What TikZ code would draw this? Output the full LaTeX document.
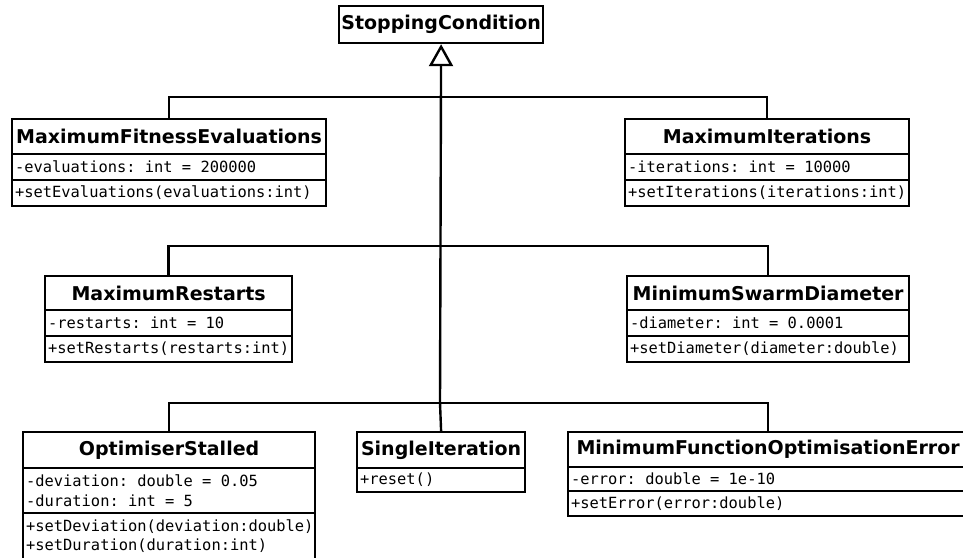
\documentclass[tikz,border=0pt]{standalone}
\usepackage{fontspec}
\usetikzlibrary{arrows.meta}
\newfontfamily\umlsans{DejaVu Sans}
\newfontfamily\umlmono{DejaVu Sans Mono}
% fixed one-cell spaces for the member lines
\newcommand\monospaces{\spaceskip=0.602em\relax\xspaceskip=0.602em\relax}

\begin{document}
\begin{tikzpicture}[x=1pt,y=-1pt,
  box/.style={draw=black, line width=2.2pt, fill=white, anchor=north west, inner sep=0pt},
  classname/.style={box, font=\umlsans\bfseries\fontsize{19}{22}\selectfont},
  members/.style={box, font=\umlmono\fontsize{15.4}{19.5}\selectfont, align=left,
    inner xsep=3pt, execute at begin node=\monospaces},
  link/.style={line width=2.4pt},
  inherit/.style={line width=2.4pt, -{Triangle[open, length=22pt, width=24pt, line width=2.4pt]}}
]
\clip (0,0) rectangle (963,557);

% abstract base class
\node[classname, minimum width=204, minimum height=37] (sc) at (338,5) {StoppingCondition};

% first row
\node[classname, minimum width=314, minimum height=35] (mfe) at (11,118) {MaximumFitnessEvaluations};
\node[members, text width=308, minimum height=26] (mfeA) at (11,153) {-evaluations: int = 200000};
\node[members, text width=308, minimum height=26] (mfeM) at (11,179) {+setEvaluations(evaluations:int)};

\node[classname, minimum width=284, minimum height=35] (mi) at (624,118) {MaximumIterations};
\node[members, text width=278, minimum height=26] (miA) at (624,153) {-iterations: int = 10000};
\node[members, text width=278, minimum height=26] (miM) at (624,179) {+setIterations(iterations:int)};

% second row
\node[classname, minimum width=247, minimum height=34] (mr) at (44,275) {MaximumRestarts};
\node[members, text width=241, minimum height=26] (mrA) at (44,309) {-restarts: int = 10};
\node[members, text width=241, minimum height=26] (mrM) at (44,335) {+setRestarts(restarts:int)};

\node[classname, minimum width=282, minimum height=34] (msd) at (626,275) {MinimumSwarmDiameter};
\node[members, text width=276, minimum height=26] (msdA) at (626,309) {-diameter: int = 0.0001};
\node[members, text width=276, minimum height=26] (msdM) at (626,335) {+setDiameter(diameter:double)};

% third row
\node[classname, minimum width=292, minimum height=36] (os) at (22,431) {OptimiserStalled};
\node[members, text width=286, minimum height=45] (osA) at (22,467) {-deviation: double = 0.05\\-duration: int = 5};
\node[members, text width=286, minimum height=46] (osM) at (22,512) {+setDeviation(deviation:double)\\+setDuration(duration:int)};

\node[classname, minimum width=168, minimum height=36] (si) at (356,431) {SingleIteration};
\node[members, text width=162, minimum height=24] (siM) at (356,467) {+reset()};

\node[classname, minimum width=400, minimum height=35] (mfoe) at (567,431) {MinimumFunctionOptimisationError};
\node[members, text width=394, minimum height=24] (mfoeA) at (567,466) {-error: double = 1e-10};
\node[members, text width=394, minimum height=25] (mfoeM) at (567,490) {+setError(error:double)};

% generalisation tree
\coordinate (bar1) at (440,97);
\coordinate (bar2) at (440,246);
\coordinate (bar3) at (440,403);

\draw[link] (mfe.north) -- (mfe.north |- bar1) -- (mi.north |- bar1) -- (mi.north);
\draw[link] (mr.north) -- (mr.north |- bar2) -- (msd.north |- bar2) -- (msd.north);
\draw[link] (os.north) -- (os.north |- bar3) -- (mfoe.north |- bar3) -- (mfoe.north);
\draw[link] (si.north) -- (bar3);
\draw[inherit] (bar3) -- (sc.south);
\end{tikzpicture}
\end{document}
